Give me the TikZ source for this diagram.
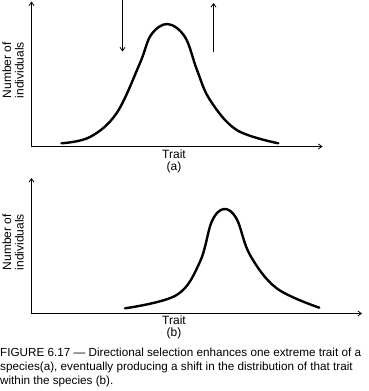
\documentclass[tikz,border=0pt]{standalone}
\usepackage{fontspec}
\setmainfont{Liberation Sans}
\usetikzlibrary{arrows.meta}
\begin{document}
\begin{tikzpicture}[x=1pt,y=-1pt,
  axis/.style={line width=0.8pt,-{Straight Barb[length=3.5pt,width=5pt]}},
  curve/.style={line width=2.4pt,line cap=round},
  lbl/.style={font=\fontsize{12}{12.5}\selectfont,inner sep=0pt,align=center},
  ylbl/.style={lbl,rotate=90},
  captext/.style={font=\fontsize{11.7}{14}\selectfont,inner sep=0pt,align=left,anchor=north west}]
\useasboundingbox (0,0) rectangle (369,391);
% ---- panel (a)
\coordinate (oa) at (31.5,146.5);
\coordinate (xa) at (322.5,146.5);
\coordinate (ya) at (31.5,1.5);
\draw[axis] (oa) -- (xa);
\draw[axis] (oa) -- (ya);
\coordinate (d1) at (122.5,0);
\coordinate (d2) at (122.5,51.5);
\coordinate (u1) at (213.5,52);
\coordinate (u2) at (213.5,3);
\draw[axis] (d1) -- (d2);
\draw[axis] (u1) -- (u2);
\draw[curve] plot[smooth,tension=0.6] coordinates {(61.5,143.3) (90,137) (116.7,113) (140,63) (151,35) (167.5,24) (185,37) (197,70) (210,100) (236.7,130) (278.3,143.3)};
\node[lbl] (ta) at (174,154.5) {Trait};
\node[lbl] (pa) at (174,167.5) {(a)};
\node[ylbl] (na) at (13,70) {Number of\\individuals};
% ---- panel (b)
\coordinate (ob) at (31.5,313.5);
\coordinate (xb) at (362,313.5);
\coordinate (yb) at (31.5,178);
\draw[axis] (ob) -- (xb);
\draw[axis] (ob) -- (yb);
\draw[curve] plot[smooth,tension=0.6] coordinates {(125,308.3) (176.7,295) (200,261.7) (211.7,221.7) (224,209) (236.7,219) (250,255) (276.7,288.3) (319.3,307.7)};
\node[lbl] (tb) at (174,320.5) {Trait};
\node[lbl] (pb) at (174,333.5) {(b)};
\node[ylbl] (nb) at (13,242) {Number of\\individuals};
% ---- caption
\node[captext] (cp) at (0,348) {FIGURE 6.17 --- Directional selection enhances one extreme trait of a\\species(a), eventually producing a shift in the distribution of that trait\\within the species (b).};
\end{tikzpicture}
\end{document}
